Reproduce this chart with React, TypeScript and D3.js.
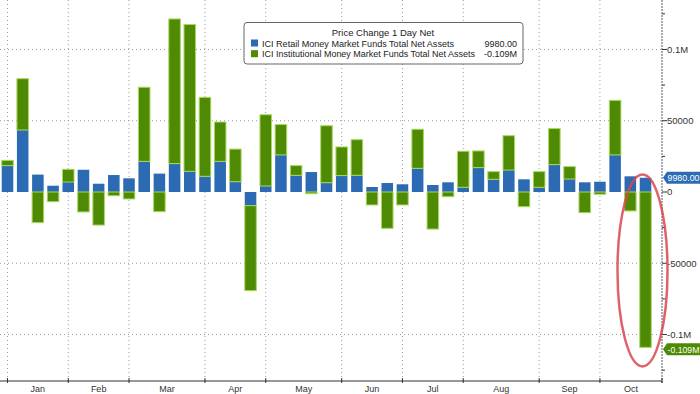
import React, { useRef, useEffect } from 'react';
import * as d3 from 'd3';

// weekly bars, month each week belongs to
const monthNames = ['Jan', 'Feb', 'Mar', 'Apr', 'May', 'Jun', 'Jul', 'Aug', 'Sep', 'Oct'];
const weeksPerMonth = [4, 4, 5, 4, 5, 4, 4, 5, 4, 4];

// ICI Retail Money Market Funds Total Net Assets, weekly change
const retail = [18500, 43500, 12200, 4400, 7000, 15600, 5800, 11900, 9600, 21500, 12900, 19900, 14500, 11000, 21500, 7200,
  -9600, 4200, 26000, 11700, 14000, 6500, 11500, 11700, 3500, 6300, 5400, 16600, 4900, 6800, 3300, 17100, 8900, 15400,
  8900, 3300, 19200, 9100, 6800, 7200, 26000, 11000, 9980];

// ICI Institutional Money Market Funds Total Net Assets, weekly change
const institutional = [3700, 36000, -21500, -6800, 8900, -14000, -23200, -2600, -4900, 52000, -13800, 101500, 103000, 55400,
  27600, 22900, -59600, 50000, 21300, 6800, -1200, 40000, 20100, 25000, -9100, -25500, -9100, 27400, -26000, -3300, 25300,
  11700, 5400, 24100, -10300, 11000, 25300, 8700, -14500, -1600, 38300, -13300, -109000];

const yTicks = [-100000, -50000, 0, 50000, 100000];
const yTickLabels = ['-0.1M', '-50000', '0', '50000', '0.1M'];
const yMinorTicks = [-125000, -75000, -25000, 25000, 75000, 125000];

const legendTitle = 'Price Change 1 Day Net';
const legendNames = ['ICI Retail Money Market Funds Total Net Assets', 'ICI Institutional Money Market Funds Total Net Assets'];
const legendValues = ['9980.00', '-0.109M'];
const lastTags = ['9980.00', '-0.109M'];

const BLUE = '#2c6bb3';
const GREEN = '#4e8a04';
const GREEN_EDGE = '#a9d85f';

function App() {
  const svgRef = useRef(null);

  useEffect(() => {
    const width = 700;
    const axisX = 662;
    const axisY = 381;
    const font = '"Liberation Sans", Arial, sans-serif';

    const svg = d3.select(svgRef.current);
    svg.selectAll('*').remove();

    const data = retail.map((r, i) => ({ i: String(i), retail: r, inst: institutional[i] }));

    const x = d3.scaleBand()
      .domain(data.map(d => d.i))
      .range([-0.1, 653.1]);
    const bw = x.bandwidth();

    const y = d3.scaleLinear()
      .domain([-132600, 134700])
      .range([axisY, 0]);

    // first week index of each month
    const starts = [];
    let acc = 0;
    weeksPerMonth.forEach(n => { starts.push(acc); acc += n; });
    const centre = i => x(String(i)) + bw / 2;

    const grid = svg.append('g');
    // vertical gridlines at month starts
    starts.forEach(s => {
      grid.append('line')
        .attr('x1', centre(s)).attr('x2', centre(s))
        .attr('y1', 0).attr('y2', axisY)
        .attr('stroke', '#9a9a9a').attr('stroke-width', 1)
        .attr('stroke-dasharray', '1,3');
    });
    yTicks.filter(t => t !== 0).forEach(t => {
      grid.append('line')
        .attr('x1', 0).attr('x2', axisX)
        .attr('y1', y(t)).attr('y2', y(t))
        .attr('stroke', '#9a9a9a').attr('stroke-width', 1)
        .attr('stroke-dasharray', '1,3');
    });

    // stacked bars, negatives go down from zero
    const stack = d3.stack()
      .keys(['retail', 'inst'])
      .offset(d3.stackOffsetDiverging);
    const series = stack(data);

    const colours = { retail: BLUE, inst: GREEN };
    series.forEach(s => {
      svg.append('g')
        .selectAll('rect')
        .data(s)
        .join('rect')
        .attr('x', d => x(d.data.i) + bw * 0.12)
        .attr('width', bw * 0.76)
        .attr('y', d => y(Math.max(d[0], d[1])))
        .attr('height', d => Math.abs(y(d[0]) - y(d[1])))
        .attr('fill', colours[s.key])
        .attr('stroke', s.key === 'inst' ? GREEN_EDGE : 'none')
        .attr('stroke-width', 1);
    });

    // right axis
    const ra = svg.append('g');
    ra.append('line')
      .attr('x1', axisX).attr('x2', axisX)
      .attr('y1', 0).attr('y2', axisY + 3)
      .attr('stroke', '#4a5a6a').attr('stroke-width', 1)
      .attr('stroke-dasharray', '2,1');
    yTicks.forEach((t, k) => {
      ra.append('line')
        .attr('x1', axisX).attr('x2', axisX + 5)
        .attr('y1', y(t)).attr('y2', y(t))
        .attr('stroke', '#333');
      ra.append('text')
        .attr('x', axisX + 5).attr('y', y(t) + 3.5)
        .attr('font-family', font).attr('font-size', 9.5)
        .attr('fill', '#333')
        .text(yTickLabels[k]);
    });
    yMinorTicks.forEach(t => {
      ra.append('line')
        .attr('x1', axisX).attr('x2', axisX + 3)
        .attr('y1', y(t)).attr('y2', y(t))
        .attr('stroke', '#333');
    });

    // bottom axis
    const ba = svg.append('g');
    ba.append('line')
      .attr('x1', 0).attr('x2', axisX)
      .attr('y1', axisY).attr('y2', axisY)
      .attr('stroke', '#333').attr('stroke-width', 1.2);
    starts.forEach((s, k) => {
      ba.append('line')
        .attr('x1', centre(s)).attr('x2', centre(s))
        .attr('y1', axisY - 3).attr('y2', axisY + 2)
        .attr('stroke', '#333');
      const next = k < starts.length - 1 ? centre(starts[k + 1]) : axisX;
      ba.append('text')
        .attr('x', (centre(s) + next) / 2).attr('y', axisY + 10.5)
        .attr('text-anchor', 'middle')
        .attr('font-family', font).attr('font-size', 9)
        .attr('fill', '#333')
        .text(monthNames[k]);
    });
    ba.append('line')
      .attr('x1', axisX).attr('x2', axisX)
      .attr('y1', axisY - 3).attr('y2', axisY + 2)
      .attr('stroke', '#333');

    // red ellipse round the last bar
    const last = data.length - 1;
    svg.append('ellipse')
      .attr('cx', centre(last) - 3)
      .attr('cy', y(-55000))
      .attr('rx', 25)
      .attr('ry', 96)
      .attr('fill', 'none')
      .attr('stroke', '#d9464f')
      .attr('stroke-opacity', 0.85)
      .attr('stroke-width', 2.5);

    // last value tags
    const tagY = [y(retail[last]), y(institutional[last]) + 2];
    const tagCol = [BLUE, GREEN];
    tagY.forEach((ty, k) => {
      const h = 12;
      svg.append('path')
        .attr('d', `M${axisX + 1},${ty} L${axisX + 5},${ty - h / 2} L${width},${ty - h / 2} L${width},${ty + h / 2} L${axisX + 5},${ty + h / 2} Z`)
        .attr('fill', tagCol[k]);
      svg.append('text')
        .attr('x', axisX + 5.5).attr('y', ty + 3.3)
        .attr('font-family', font).attr('font-size', 9)
        .attr('textLength', 32).attr('lengthAdjust', 'spacingAndGlyphs')
        .attr('fill', 'white')
        .text(lastTags[k]);
    });

    // legend
    const lg = svg.append('g');
    lg.append('rect')
      .attr('x', 244).attr('y', 22.5)
      .attr('width', 279).attr('height', 41.5)
      .attr('rx', 3)
      .attr('fill', 'white')
      .attr('stroke', '#666').attr('stroke-width', 1);
    lg.append('text')
      .attr('x', 383).attr('y', 35.5)
      .attr('text-anchor', 'middle')
      .attr('font-family', font).attr('font-size', 9.5)
      .attr('fill', '#222')
      .text(legendTitle);
    const nameLen = [192, 213];
    legendNames.forEach((n, k) => {
      const ly = 46.5 + k * 10.7;
      lg.append('rect')
        .attr('x', 251).attr('y', ly - 7)
        .attr('width', 7).attr('height', 7)
        .attr('fill', tagCol[k]);
      lg.append('text')
        .attr('x', 262).attr('y', ly)
        .attr('font-family', font).attr('font-size', 9)
        .attr('textLength', nameLen[k]).attr('lengthAdjust', 'spacingAndGlyphs')
        .attr('fill', '#222')
        .text(n);
      lg.append('text')
        .attr('x', 517).attr('y', ly)
        .attr('text-anchor', 'end')
        .attr('font-family', font).attr('font-size', 9)
        .attr('fill', '#222')
        .text(legendValues[k]);
    });
  }, []);

  return (
    <svg ref={svgRef} width={700} height={394}
      style={{ position: 'absolute', left: 0, top: 0, background: 'white' }} />
  );
}

export default App;
